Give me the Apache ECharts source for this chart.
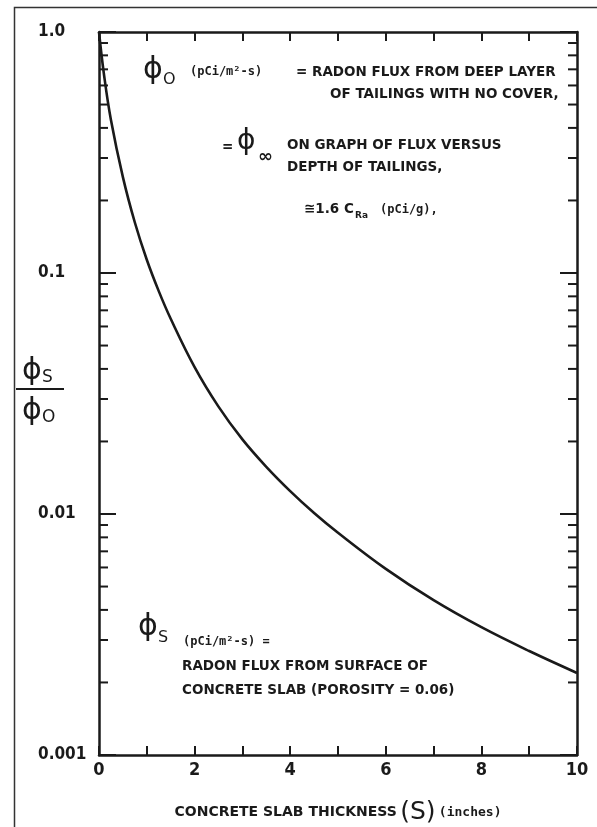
<!DOCTYPE html>
<html lang="en">
<head>
    <meta charset="UTF-8">
    <title>Radon flux vs concrete slab thickness</title>
    <style>
        html, body { margin: 0; padding: 0; background: #fff; }
        #chart { width: 597px; height: 827px; }
    </style>
</head>
<body>
    <div id="chart"></div>
    <script src="https://cdn.jsdelivr.net/npm/echarts@6.0.0/dist/echarts.min.js"></script>
    <script>
        // curve: slab thickness (inches) vs phi_s / phi_o
        var thickness = [0, 0.1, 0.25, 0.5, 0.75, 1, 1.25, 1.5, 2, 2.5, 3, 3.5, 4, 4.5, 5, 6, 7, 8, 9, 10];
        var fluxRatio = [1.0, 0.676, 0.431, 0.25, 0.162, 0.1135, 0.0841, 0.0646, 0.0407, 0.0279, 0.0204, 0.0157, 0.01245, 0.0101, 0.00836, 0.00592, 0.00439, 0.00339, 0.0027, 0.00219];

        // axis tick labels
        var yLabels = { '1': '1.0', '0.1': '0.1', '0.01': '0.01', '0.001': '0.001' };
        var xLabelValues = [0, 2, 4, 6, 8, 10];
        // minor log ticks (2..9 in each decade)
        var minorMultipliers = [2, 3, 4, 5, 6, 7, 8, 9];
        var decades = [0.001, 0.01, 0.1];

        var minorTicks = [];
        decades.forEach(function (d) {
            minorMultipliers.forEach(function (m) { minorTicks.push([0, +(m * d).toPrecision(3)]); });
        });

        var curve = thickness.map(function (x, i) { return [x, fluxRatio[i]]; });

        var ink = '#1a1a1a';
        var labelFont = '"DejaVu Sans Condensed", "DejaVu Sans", sans-serif';
        var noteFont = 'bold 13.5px "DejaVu Sans", sans-serif';
        var smallFont = 'bold 12px "DejaVu Sans Mono", monospace';

        var myChart = echarts.init(document.getElementById('chart'));

        var xAxisBase = {
            type: 'value', min: 0, max: 10, interval: 1,
            axisLine: { show: true, onZero: false, lineStyle: { color: ink, width: 2.5 } },
            axisTick: { show: true, inside: true, length: 9, lineStyle: { color: ink, width: 2 } },
            splitLine: { show: false }
        };
        var yAxisBase = {
            type: 'log', logBase: 10, min: 0.001, max: 1,
            axisLine: { show: true, onZero: false, lineStyle: { color: ink, width: 2.5 } },
            axisTick: { show: true, inside: true, length: 17, lineStyle: { color: ink, width: 2 } },
            splitLine: { show: false },
            minorTick: { show: false }
        };

        function note(x, y, text, font) {
            return { type: 'text', x: x, y: y, silent: true, style: { text: text, font: font || noteFont, fill: ink, verticalAlign: 'top' } };
        }

        var option = {
            backgroundColor: '#fff',
            animation: false,
            grid: { left: 99, right: 20, top: 32, bottom: 72, containLabel: false, outerBoundsMode: 'none' },
            xAxis: [
                Object.assign({}, xAxisBase, {
                    position: 'bottom',
                    axisLabel: {
                        margin: 6, color: ink, fontSize: 18, fontWeight: 'bold', fontFamily: labelFont,
                        formatter: function (v) { return xLabelValues.indexOf(v) >= 0 ? String(v) : ''; }
                    },
                    name: '{t|CONCRETE SLAB THICKNESS} {s|(S)} {i|(inches)}',
                    nameLocation: 'middle',
                    nameGap: 45,
                    nameTextStyle: {
                        color: ink,
                        rich: {
                            t: { fontSize: 14, fontWeight: 'bold', fontFamily: '"DejaVu Sans", sans-serif', color: ink },
                            s: { fontSize: 25, fontFamily: '"DejaVu Sans", sans-serif', color: ink },
                            i: { fontSize: 13, fontWeight: 'bold', fontFamily: '"DejaVu Sans Mono", monospace', color: ink }
                        }
                    }
                }),
                Object.assign({}, xAxisBase, { position: 'top', axisLabel: { show: false } })
            ],
            yAxis: [
                Object.assign({}, yAxisBase, {
                    position: 'left',
                    axisLabel: {
                        margin: 61, align: 'left', color: ink, fontSize: 17, fontWeight: 'bold', fontFamily: labelFont,
                        formatter: function (v) { return yLabels[String(+v.toPrecision(3))] || ''; }
                    }
                }),
                Object.assign({}, yAxisBase, { position: 'right', axisLabel: { show: false } })
            ],
            graphic: [
                // outer frame (cropped on the right and bottom)
                { type: 'rect', left: 12, top: 5, shape: { width: 700, height: 900 }, style: { fill: 'none', stroke: '#333', lineWidth: 1.5 }, silent: true },
                // y axis name: phi_s / phi_o
                note(22, 356, 'ϕ', '30px "DejaVu Sans"'),
                note(42, 369, 'S', '17px "DejaVu Sans"'),
                { type: 'line', shape: { x1: 16, y1: 389, x2: 64, y2: 389 }, style: { stroke: ink, lineWidth: 2 } },
                note(22, 396, 'ϕ', '30px "DejaVu Sans"'),
                note(42, 409, 'O', '17px "DejaVu Sans"'),
                // phi_o note
                note(143, 55, 'ϕ', '30px "DejaVu Sans"'),
                note(163, 72, 'O', '16px "DejaVu Sans"'),
                note(190, 66, '(pCi/m²-s)', smallFont),
                note(296, 65, '= RADON FLUX FROM DEEP LAYER'),
                note(330, 87, 'OF TAILINGS WITH NO COVER,'),
                note(222, 140, '=', noteFont),
                note(237, 128, 'ϕ', '28px "DejaVu Sans"'),
                note(258, 148, '∞', 'bold 18px "DejaVu Sans"'),
                note(287, 138, 'ON GRAPH OF FLUX VERSUS'),
                note(287, 160, 'DEPTH OF TAILINGS,'),
                note(304, 202, '≅1.6 C', 'bold 13.5px "DejaVu Sans"'),
                note(355, 211, 'Ra', 'bold 9px "DejaVu Sans"'),
                note(380, 204, '(pCi/g),', smallFont),
                // phi_s note
                note(138, 612, 'ϕ', '30px "DejaVu Sans"'),
                note(158, 630, 'S', '16px "DejaVu Sans"'),
                note(183, 636, '(pCi/m²-s) =', smallFont),
                note(182, 659, 'RADON FLUX FROM SURFACE OF'),
                note(182, 683, 'CONCRETE SLAB (POROSITY = 0.06)')
            ],
            series: [
                {
                    name: 'flux ratio',
                    type: 'line',
                    data: curve,
                    smooth: 0.4,
                    showSymbol: false,
                    lineStyle: { color: ink, width: 2.6 }
                },
                {
                    // minor ticks on the left and right log axes
                    type: 'custom',
                    data: minorTicks,
                    clip: false,
                    silent: true,
                    renderItem: function (params, api) {
                        var v = api.value(1);
                        var l = api.coord([0, v]);
                        var r = api.coord([10, v]);
                        return {
                            type: 'group',
                            children: [
                                { type: 'line', shape: { x1: l[0], y1: l[1], x2: l[0] + 9, y2: l[1] }, style: { stroke: ink, lineWidth: 2 } },
                                { type: 'line', shape: { x1: r[0], y1: r[1], x2: r[0] - 9, y2: r[1] }, style: { stroke: ink, lineWidth: 2 } }
                            ]
                        };
                    }
                }
            ]
        };

        option && myChart.setOption(option);
    </script>
</body>
</html>
